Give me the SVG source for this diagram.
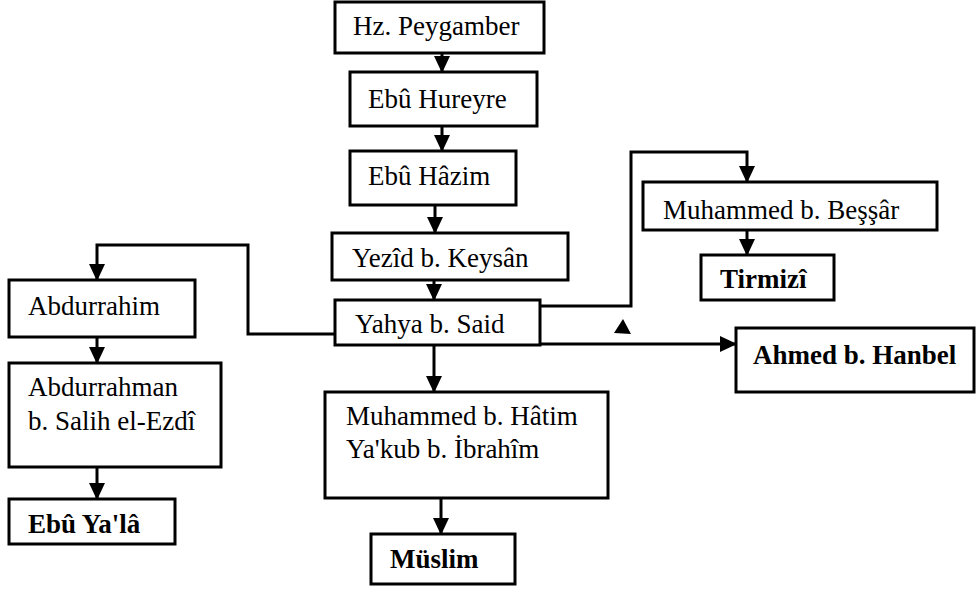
<svg xmlns="http://www.w3.org/2000/svg" width="976" height="589" viewBox="0 0 976 589">
<defs>
<marker id="ah" markerWidth="17" markerHeight="16" refX="16" refY="8" orient="auto" markerUnits="userSpaceOnUse"><path d="M0,0 L17,8 L0,16 z" fill="#000"/></marker>
<style>
.box{fill:#fff;stroke:#000;stroke-width:3}
.t{font-family:"Liberation Serif","Times New Roman",serif;font-size:27px;fill:#000}
.b{font-weight:bold}
.c{fill:none;stroke:#000;stroke-width:3;marker-end:url(#ah)}
</style>
</defs>
<rect width="976" height="589" fill="#fff"/>
<g id="connectors">
<line class="c" x1="442" y1="53" x2="442" y2="72"/>
<line class="c" x1="442" y1="126" x2="442" y2="151"/>
<line class="c" x1="435" y1="205" x2="435" y2="233"/>
<line class="c" x1="434" y1="280" x2="434" y2="300"/>
<line class="c" x1="434" y1="345" x2="434" y2="392"/>
<line class="c" x1="441" y1="498" x2="441" y2="534"/>
<path class="c" d="M335,334 H248 V245 H97 V280"/>
<line class="c" x1="97" y1="337" x2="97" y2="363"/>
<line class="c" x1="97" y1="467" x2="97" y2="499"/>
<path class="c" d="M540,306 H631 V152 H747 V182"/>
<line class="c" x1="747" y1="230" x2="747" y2="255"/>
<line class="c" x1="540" y1="344" x2="736" y2="344"/>
<polygon points="614,333 623,319 631,334" fill="#000"/>
</g>
<g id="n-hz"><rect class="box" x="335" y="2" width="209" height="51"/><text class="t" x="353" y="35">Hz. Peygamber</text></g>
<g id="n-hureyre"><rect class="box" x="350" y="72" width="187" height="54"/><text class="t" x="368" y="108">Ebû Hureyre</text></g>
<g id="n-hazim"><rect class="box" x="350" y="151" width="166" height="54"/><text class="t" x="368" y="185">Ebû Hâzim</text></g>
<g id="n-yezid"><rect class="box" x="332" y="233" width="236" height="47"/><text class="t" x="352" y="267">Yezîd b. Keysân</text></g>
<g id="n-yahya"><rect class="box" x="335" y="300" width="205" height="45"/><text class="t" x="355" y="333">Yahya b. Said</text></g>
<g id="n-abdurrahim"><rect class="box" x="9" y="280" width="186" height="57"/><text class="t" x="28" y="315">Abdurrahim</text></g>
<g id="n-abdurrahman"><rect class="box" x="9" y="363" width="212" height="104"/><text class="t" x="28" y="396">Abdurrahman</text><text class="t" x="28" y="430">b. Salih el-Ezdî</text></g>
<g id="n-ebuyala"><rect class="box" x="9" y="499" width="166" height="45"/><text class="t b" x="28" y="533">Ebû Ya'lâ</text></g>
<g id="n-hatim"><rect class="box" x="325" y="392" width="283" height="106"/><text class="t" x="346" y="425">Muhammed b. Hâtim</text><text class="t" x="346" y="458">Ya'kub b. İbrahîm</text></g>
<g id="n-muslim"><rect class="box" x="371" y="534" width="144" height="50"/><text class="t b" x="390" y="568">Müslim</text></g>
<g id="n-bessar"><rect class="box" x="643" y="182" width="294" height="48"/><text class="t" x="663" y="219">Muhammed b. Beşşâr</text></g>
<g id="n-tirmizi"><rect class="box" x="701" y="255" width="133" height="45"/><text class="t b" x="720" y="288">Tirmizî</text></g>
<g id="n-ahmed"><rect class="box" x="736" y="328" width="238" height="64"/><text class="t b" x="753" y="364">Ahmed b. Hanbel</text></g>
</svg>
